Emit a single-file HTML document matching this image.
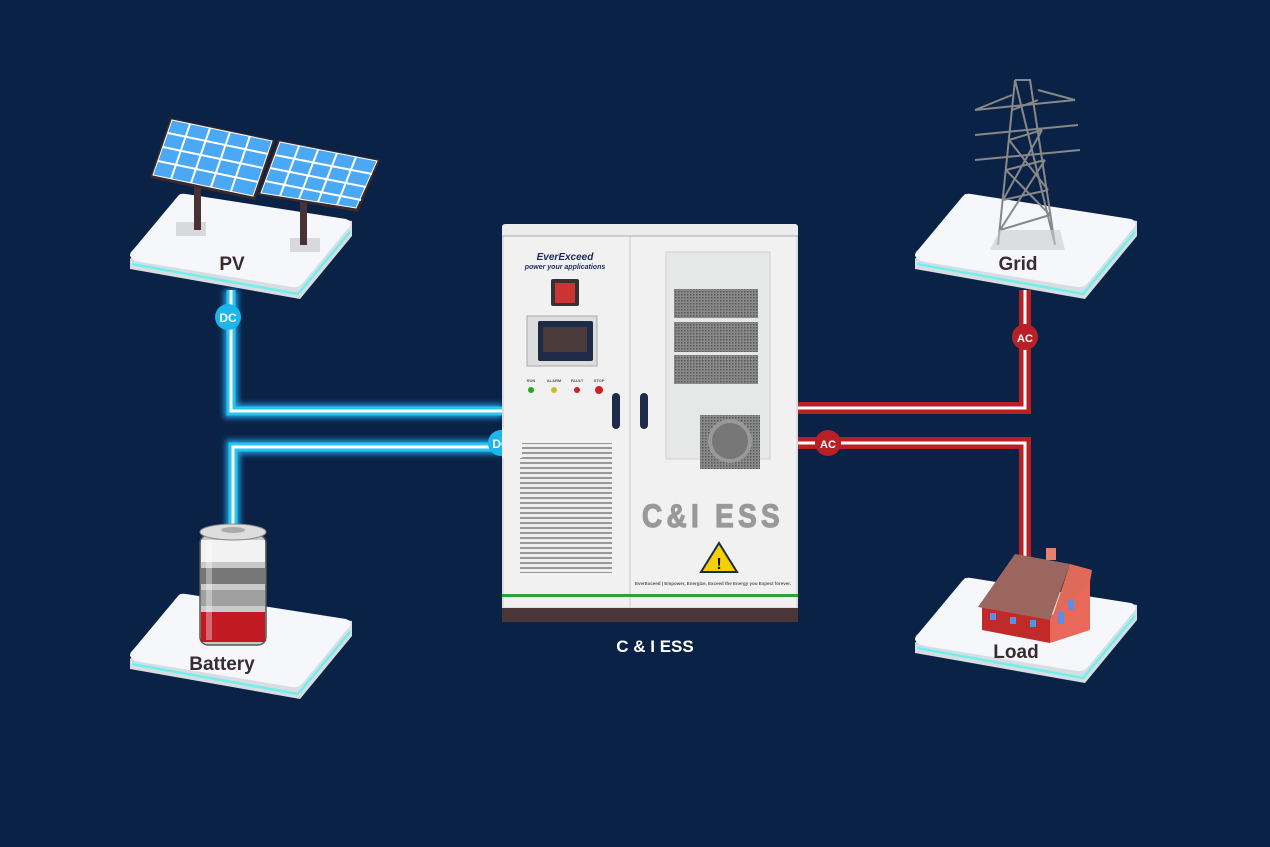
<!DOCTYPE html>
<html><head><meta charset="utf-8"><style>
html,body{margin:0;padding:0;background:#0b2247;}
svg{display:block}
text{font-family:"Liberation Sans",sans-serif;font-weight:bold}
</style></head><body>
<svg width="1270" height="847" viewBox="0 0 1270 847" xmlns="http://www.w3.org/2000/svg">
<defs>
<filter id="glow" x="-20%" y="-20%" width="140%" height="140%"><feGaussianBlur stdDeviation="3"/></filter>
<pattern id="mesh" width="3" height="3" patternUnits="userSpaceOnUse"><rect width="3" height="3" fill="#8a8a8a"/><rect width="1.5" height="1.5" fill="#555"/></pattern>
<pattern id="grill" width="6" height="5" patternUnits="userSpaceOnUse"><rect width="6" height="5" fill="#eee"/><rect y="2" width="6" height="2" fill="#999"/></pattern>
<g id="plat">
<path d="M0,65 L50,0 L222,27 L222,42 L170,105 L0,75 Z" fill="#d8dde2"/>
<path d="M2,70 L168,100 L220,38" fill="none" stroke="#6ff0ee" stroke-width="2.5"/>
<path d="M0,62 Q0,58 3,56 L48,2 Q51,-1 56,0 L216,25 Q222,27 220,32 L172,90 Q168,94 162,93 L5,67 Z" fill="#f5f7fb"/>
</g>
</defs>
<rect width="1270" height="847" fill="#0b2247"/>

<g fill="none" stroke-linejoin="miter">
<path d="M231,290 V411 H502" stroke="#1d9cdc" stroke-width="14" filter="url(#glow)"/>
<path d="M231,290 V411 H502" stroke="#2bc4f0" stroke-width="9"/>
<path d="M231,290 V411 H502" stroke="#fff" stroke-width="3"/>
<path d="M233,530 V447 H502" stroke="#1d9cdc" stroke-width="14" filter="url(#glow)"/>
<path d="M233,530 V447 H502" stroke="#2bc4f0" stroke-width="9"/>
<path d="M233,530 V447 H502" stroke="#fff" stroke-width="3"/>
<path d="M797,408 H1025 V290" stroke="#b82025" stroke-width="12"/>
<path d="M797,408 H1025 V290" stroke="#fff" stroke-width="3"/>
<path d="M797,443 H1025 V560" stroke="#b82025" stroke-width="12"/>
<path d="M797,443 H1025 V560" stroke="#fff" stroke-width="3"/>
</g>

<use href="#plat" x="130" y="194"/>
<use href="#plat" x="915" y="194"/>
<use href="#plat" x="130" y="594"/>
<use href="#plat" x="915" y="578"/>

<g>
<rect x="176" y="222" width="30" height="14" fill="#ccc" opacity=".7"/>
<rect x="290" y="238" width="30" height="14" fill="#ccc" opacity=".7"/>
<rect x="194" y="180" width="7" height="50" fill="#4a3234"/>
<rect x="300" y="195" width="7" height="50" fill="#4a3234"/>
<polygon points="170,118 275,140 255,200 150,178" fill="#3a2a2c"/>
<polygon points="172,120 272,141 253,196 153,175" fill="#4aa8f5" stroke="#fff" stroke-width="1"/>
<polygon points="278,140 380,160 358,212 258,195" fill="#3a2a2c"/>
<polygon points="280,142 377,161 356,208 261,193" fill="#4aa8f5" stroke="#fff" stroke-width="1"/>
<g stroke="#fff" stroke-width="2">
<line x1="168" y1="133" x2="268" y2="154"/><line x1="163" y1="147" x2="263" y2="168"/><line x1="158" y1="161" x2="258" y2="182"/>
<line x1="190" y1="124" x2="171" y2="179"/><line x1="210" y1="128" x2="191" y2="183"/><line x1="230" y1="132" x2="211" y2="187"/><line x1="250" y1="136" x2="231" y2="191"/>
<line x1="275" y1="155" x2="372" y2="174"/><line x1="270" y1="168" x2="366" y2="187"/><line x1="265" y1="181" x2="361" y2="200"/>
<line x1="299" y1="146" x2="280" y2="196"/><line x1="318" y1="150" x2="299" y2="199"/><line x1="337" y1="153" x2="318" y2="202"/><line x1="356" y1="157" x2="337" y2="205"/>
</g>
</g>
<text x="232" y="270" font-size="19" fill="#3a2c2e" text-anchor="middle">PV</text>

<g stroke="#888" stroke-width="2" fill="none">
<path d="M1015,80 L998,245 M1015,80 L1055,245 M1015,80 L1030,80 L1055,245"/>
<path d="M1000,230 L1050,215 M1003,200 L1048,190 M1006,170 L1045,160 M1009,140 L1042,130 M1012,110 L1038,100"/>
<path d="M1000,230 L1045,160 M1050,215 L1006,170 M1003,200 L1042,130 M1048,190 L1009,140"/>
<path d="M975,110 L1075,100 M975,135 L1078,125 M975,160 L1080,150 M975,110 L1012,95 M1075,100 L1038,90"/>
</g>
<polygon points="990,250 1000,230 1060,230 1065,250" fill="#ccc" opacity=".6"/>
<text x="1018" y="270" font-size="19" fill="#3a2c2e" text-anchor="middle">Grid</text>

<g>
<rect x="200" y="535" width="66" height="110" rx="8" fill="#c9c9c9" stroke="#555" stroke-width="1.5"/>
<rect x="201" y="540" width="64" height="22" fill="#f2f2f2"/>
<rect x="201" y="568" width="64" height="16" fill="#777"/>
<rect x="201" y="590" width="64" height="16" fill="#a0a0a0"/>
<rect x="201" y="612" width="64" height="30" fill="#c11a22"/>
<rect x="206" y="540" width="6" height="100" fill="#fff" opacity=".35"/>
<ellipse cx="233" cy="532" rx="33" ry="8" fill="#ddd" stroke="#888"/>
<ellipse cx="233" cy="530" rx="12" ry="3" fill="#aaa"/>
</g>
<text x="222" y="670" font-size="19" fill="#3a2c2e" text-anchor="middle">Battery</text>

<g>
<polygon points="982,605 1050,617 1050,643 982,630" fill="#c22a2a"/>
<polygon points="1050,617 1090,580 1090,630 1050,643" fill="#e8685a"/>
<polygon points="1015,554 1070,564 1050,620 978,607" fill="#9a665e"/>
<polygon points="1070,564 1092,570 1090,582 1052,618" fill="#e06a5a"/>
<rect x="1046" y="548" width="10" height="12" fill="#e88070"/>
<g fill="#5a8ee8"><rect x="990" y="613" width="6" height="7"/><rect x="1010" y="617" width="6" height="7"/><rect x="1030" y="620" width="6" height="7"/><rect x="1058" y="612" width="6" height="12"/><rect x="1068" y="600" width="6" height="10"/></g>
</g>
<text x="1016" y="658" font-size="19" fill="#3a2c2e" text-anchor="middle">Load</text>

<g>
<rect x="502" y="224" width="296" height="398" rx="3" fill="#ececec"/>
<rect x="503" y="236" width="127" height="372" fill="#f1f1f1" stroke="#ccc"/>
<rect x="630" y="236" width="167" height="372" fill="#f1f1f1" stroke="#ccc"/>
<line x1="502" y1="236" x2="798" y2="236" stroke="#aaa"/>
<rect x="502" y="594" width="296" height="3" fill="#27a33c"/>
<rect x="502" y="608" width="296" height="14" fill="#4a3636"/>
<text x="565" y="260" font-size="10" font-style="italic" fill="#1a2a5a" text-anchor="middle">EverExceed</text>
<text x="565" y="269" font-size="7" font-style="italic" fill="#1a2a5a" text-anchor="middle">power your applications</text>
<rect x="551" y="279" width="28" height="27" rx="2" fill="#333"/>
<rect x="555" y="283" width="20" height="20" fill="#c33"/>
<rect x="527" y="316" width="70" height="50" fill="#ddd" stroke="#aaa"/>
<rect x="538" y="321" width="55" height="40" rx="2" fill="#1d2a48"/>
<rect x="543" y="327" width="44" height="25" fill="#4a3a3a"/>
<g font-size="4" fill="#555" text-anchor="middle" font-weight="normal"><text x="531" y="382">RUN</text><text x="554" y="382">ALARM</text><text x="577" y="382">FAULT</text><text x="599" y="382">STOP</text></g>
<circle cx="531" cy="390" r="3" fill="#2a2"/><circle cx="554" cy="390" r="3" fill="#cb2"/><circle cx="577" cy="390" r="3" fill="#c22"/><circle cx="599" cy="390" r="4" fill="#c22"/>
<rect x="612" y="393" width="8" height="36" rx="4" fill="#1d2a48"/>
<rect x="640" y="393" width="8" height="36" rx="4" fill="#1d2a48"/>
<rect x="520" y="443" width="92" height="130" fill="url(#grill)"/>
<rect x="666" y="252" width="104" height="207" fill="#e6e8e8" stroke="#d0d0d0"/>
<rect x="674" y="289" width="84" height="29" fill="url(#mesh)"/>
<rect x="674" y="322" width="84" height="30" fill="url(#mesh)"/>
<rect x="674" y="355" width="84" height="29" fill="url(#mesh)"/>
<rect x="700" y="415" width="60" height="54" fill="url(#mesh)"/>
<circle cx="730" cy="441" r="20" fill="#777" stroke="#999" stroke-width="4"/>
<text x="713" y="527" font-size="32" fill="#999" stroke="#999" stroke-width="1.2" text-anchor="middle" letter-spacing="5" textLength="142" lengthAdjust="spacingAndGlyphs">C&amp;I ESS</text>
<polygon points="719,543 737,572 701,572" fill="#f5d000" stroke="#1a2a48" stroke-width="2"/>
<text x="719" y="569" font-size="16" fill="#111" text-anchor="middle">!</text>
<text x="713" y="585" font-size="4.5" fill="#555" text-anchor="middle" font-weight="normal">EverExceed | Empower, Energize, Exceed the Energy you Expect forever.</text>
</g>
<text x="655" y="652" font-size="17" fill="#fff" text-anchor="middle">C &amp; I ESS</text>

<circle cx="228" cy="317" r="13" fill="#1cb6ec"/><text x="228" y="322" font-size="12" fill="#fff" text-anchor="middle">DC</text>
<circle cx="501" cy="443" r="13" fill="#1cb6ec"/><text x="501" y="448" font-size="12" fill="#fff" text-anchor="middle">DC</text>
<rect x="502" y="428" width="20" height="30" fill="#f1f1f1"/>
<circle cx="1025" cy="337" r="13" fill="#b82025"/><text x="1025" y="342" font-size="11" fill="#fff" text-anchor="middle">AC</text>
<circle cx="828" cy="443" r="13" fill="#b82025"/><text x="828" y="448" font-size="11" fill="#fff" text-anchor="middle">AC</text>
</svg>
</body></html>
